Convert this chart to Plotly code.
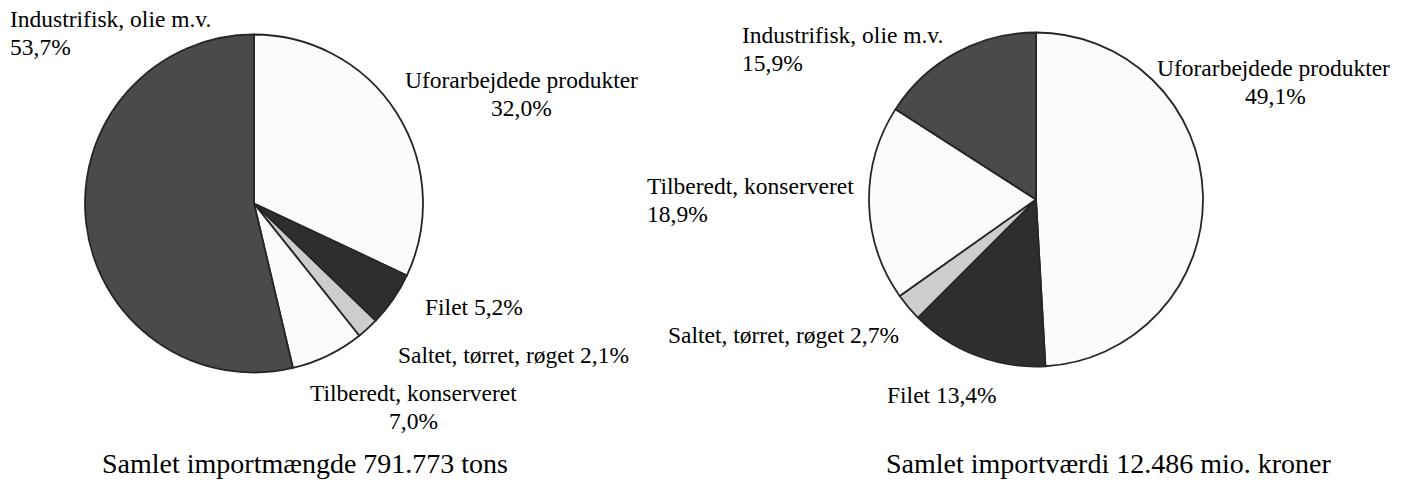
import plotly.graph_objects as go

# ---- data ----
categories = ["Uforarbejdede produkter", "Filet", "Saltet, tørret, røget",
              "Tilberedt, konserveret", "Industrifisk, olie m.v."]
share_volume = [32.0, 5.2, 2.1, 7.0, 53.7]      # % of import volume
share_value = [49.1, 13.4, 2.7, 18.9, 15.9]     # % of import value
caption_volume = "Samlet importmængde 791.773 tons"
caption_value = "Samlet importværdi 12.486 mio. kroner"

slice_colors = ["#fbfbfb", "#2e2e2e", "#cdcdcd", "#fbfbfb", "#4a4a4a"]

W, H = 1414, 486
FONT = "Liberation Serif, Times New Roman, serif"
LABEL_SIZE = 23.5
CAPTION_SIZE = 28


def px_x(x):
    return x / W


def px_y(y):
    return 1 - y / H


def pct(v):
    return f"{v:.1f}".replace(".", ",") + "%"


fig = go.Figure()

# pie domains (pixel boxes: left, top, right, bottom)
boxes = [(85, 34.5, 423, 372.5), (869, 32.5, 1203, 366.5)]
for vals, (l, t, r, b) in zip([share_volume, share_value], boxes):
    fig.add_trace(go.Pie(
        labels=categories, values=vals, sort=False, direction="clockwise",
        rotation=0, textinfo="none", hoverinfo="label+percent",
        marker=dict(colors=slice_colors, line=dict(color="#262626", width=1.8)),
        domain=dict(x=[px_x(l), px_x(r)], y=[px_y(b), px_y(t)]),
        showlegend=False,
    ))

# label placement per slice: list of (line text, x, y, xanchor)
def lines(i, vals, split):
    if split:
        return [categories[i], pct(vals[i])]
    return [categories[i] + " " + pct(vals[i])]

placements = [
    # left chart
    (lines(4, share_volume, True), [(8, 19), (8, 47)], "left"),
    (lines(0, share_volume, True), [(521, 80), (521, 108)], "center"),
    (lines(1, share_volume, False), [(474, 307)], "center"),
    (lines(2, share_volume, False), [(513, 355)], "center"),
    (lines(3, share_volume, True), [(413, 393), (413, 421)], "center"),
    # right chart
    (lines(4, share_value, True), [(740, 35), (740, 63)], "left"),
    (lines(0, share_value, True), [(1273, 68), (1275, 96)], "center"),
    (lines(3, share_value, True), [(645, 186), (645, 214)], "left"),
    (lines(2, share_value, False), [(783, 335)], "center"),
    (lines(1, share_value, False), [(942, 395)], "center"),
]

annotations = []
for texts, pos, xa in placements:
    for text, (x, y) in zip(texts, pos):
        annotations.append(dict(
            text=text, x=px_x(x), y=px_y(y), xref="paper", yref="paper",
            xanchor=xa, yanchor="middle", showarrow=False,
            font=dict(family=FONT, size=LABEL_SIZE, color="#000000"),
        ))

for text, x in [(caption_volume, 305), (caption_value, 1109)]:
    annotations.append(dict(
        text=text, x=px_x(x), y=px_y(463), xref="paper", yref="paper",
        xanchor="center", yanchor="middle", showarrow=False,
        font=dict(family=FONT, size=CAPTION_SIZE, color="#000000"),
    ))

fig.update_layout(
    width=W, height=H, margin=dict(l=0, r=0, t=0, b=0),
    paper_bgcolor="#ffffff", plot_bgcolor="#ffffff",
    annotations=annotations,
)

fig.write_html(
    "out.html",
    config={"displayModeBar": False},
    post_script="document.body.style.margin='0';document.body.style.overflow='hidden';",
)
